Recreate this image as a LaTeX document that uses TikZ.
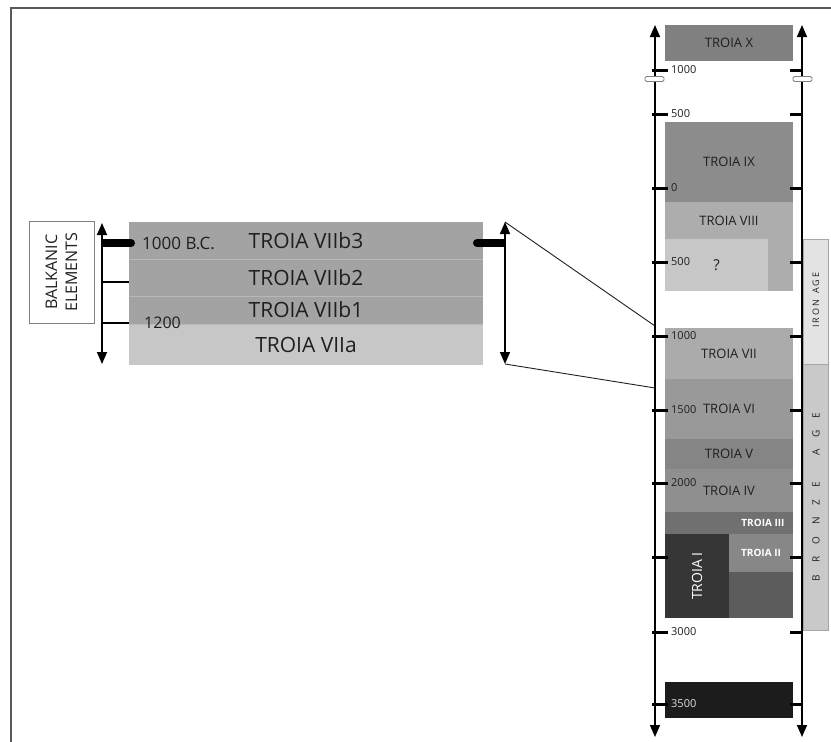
\documentclass[tikz,border=0pt]{standalone}
\usepackage{fontspec}
\setmainfont{Open Sans}
\usetikzlibrary{arrows.meta}
\definecolor{rowmid}{gray}{0.64}
\definecolor{rowlight}{gray}{0.78}
\definecolor{rowsep}{gray}{0.72}
\definecolor{erax}{gray}{0.50}
\definecolor{eraix}{gray}{0.55}
\definecolor{eraviii}{gray}{0.68}
\definecolor{eraq}{gray}{0.78}
\definecolor{eravii}{gray}{0.67}
\definecolor{eravi}{gray}{0.60}
\definecolor{erav}{gray}{0.52}
\definecolor{eraiv}{gray}{0.56}
\definecolor{eraiii}{gray}{0.44}
\definecolor{erai}{gray}{0.21}
\definecolor{eraii}{gray}{0.53}
\definecolor{eralow}{gray}{0.36}
\definecolor{eradeep}{gray}{0.11}
\definecolor{ironband}{gray}{0.89}
\definecolor{bronzeband}{gray}{0.79}
\definecolor{ink}{gray}{0.12}

\begin{document}
\begin{tikzpicture}[x=1pt,y=-1pt,>={Triangle[width=10pt,length=12pt]},
  row/.style={minimum width=354pt,inner sep=0pt,text=ink,font=\fontsize{21}{21}\selectfont},
  era/.style={minimum width=128pt,inner sep=0pt,text=ink,font=\fontsize{13}{13}\selectfont},
  yearlab/.style={anchor=west,inner sep=0pt,text=ink,font=\fontsize{11}{11}\selectfont},
  axis/.style={<->,line width=1.6pt}]
  \useasboundingbox (0,0) rectangle (831,742);
  \draw[gray!70!black,line width=1.2pt] (11,742) -- (11,8) -- (831,8);

  % enlarged part on the left
  \node[draw=gray,fill=white,minimum width=65pt,minimum height=102pt,inner sep=0pt] (balk) at (61.5,272) {};
  \node[rotate=90,align=center,text=ink,font=\fontsize{16}{20}\selectfont] (balktext) at (balk.center) {BALKANIC\\ELEMENTS};

  \node[row,fill=rowmid,minimum height=37pt] (b3) at (306,240.5) {TROIA VIIb3};
  \node[row,fill=rowmid,minimum height=37pt] (b2) at (306,277.5) {TROIA VIIb2};
  \node[row,fill=rowmid,minimum height=28pt] (b1) at (306,310) {TROIA VIIb1};
  \node[row,fill=rowlight,minimum height=41pt] (a) at (306,344.5) {TROIA VIIa};
  \foreach \n in {b3,b2,b1}
    \draw[rowsep,line width=0.8pt] (\n.south west) -- (\n.south east);

  \coordinate (ltop) at (102,223);
  \coordinate (lbot) at (102,364);
  \draw[axis] (ltop) -- (lbot);
  \draw[line width=8pt] (102,243) -- (131,243);
  \fill (131,243) circle (4pt);
  \draw[line width=1.4pt] (102,282) -- (129,282);
  \draw[line width=1.4pt] (102,323) -- (129,323);
  \node[yearlab,font=\fontsize{17}{17}\selectfont] (bc) at (142,243) {1000 B.C.};
  \node[yearlab,font=\fontsize{16}{16}\selectfont] (twelve) at (144,323) {1200};

  \coordinate (rtop) at (505,222);
  \coordinate (rbot) at (505,364);
  \draw[axis] (rtop) -- (rbot);
  \draw[line width=8pt] (505,243) -- (477,243);
  \fill (477,243) circle (4pt);

  % the whole sequence on the right
  \node[era,fill=erax,minimum height=36pt] (x) at (729,43) {TROIA X};
  \node[era,fill=eraix,minimum height=80pt] (ix) at (729,162) {TROIA IX};
  \node[era,fill=eraviii,minimum height=37pt] (viii) at (729,220.5) {TROIA VIII};
  \fill[eraviii] (768,239) rectangle (793,291);
  \node[era,fill=eraq,minimum width=103pt,minimum height=52pt,font=\fontsize{15}{15}\selectfont] (q) at (716.5,265) {?};
  \node[era,fill=eravii,minimum height=51pt] (vii) at (729,353.5) {TROIA VII};
  \node[era,fill=eravi,minimum height=60pt] (vi) at (729,409) {TROIA VI};
  \node[era,fill=erav,minimum height=30pt] (v) at (729,454) {TROIA V};
  \node[era,fill=eraiv,minimum height=43pt] (iv) at (729,490.5) {TROIA IV};
  \node[era,fill=eraiii,minimum height=22pt] (iii) at (729,523) {};
  \node[text=white,font=\fontsize{10}{10}\selectfont\bfseries] (iiitext) at (763,523) {TROIA III};
  \node[era,fill=erai,rotate=90,minimum width=84pt,minimum height=64pt,text=white,font=\fontsize{14}{14}\selectfont] (i) at (697,576) {TROIA I};
  \node[era,fill=eraii,minimum width=64pt,minimum height=38pt,text=white,font=\fontsize{10}{10}\selectfont\bfseries] (ii) at (761,553) {TROIA II};
  \node[era,fill=eralow,minimum width=64pt,minimum height=46pt] (low) at (761,595) {};
  \node[era,fill=eradeep,minimum height=36pt] (deep) at (729,700) {};

  \node[draw=gray!70,fill=ironband,minimum width=25pt,minimum height=125pt,inner sep=0pt] (iron) at (815.5,301.5) {};
  \node[rotate=90,text=ink,font=\fontsize{9}{9}\selectfont] (irontext) at (816,300) {I\hspace{2pt}R\hspace{2pt}O\hspace{2pt}N\hspace{6pt}A\hspace{2pt}G\hspace{2pt}E};
  \node[draw=gray!70,fill=bronzeband,minimum width=25pt,minimum height=266pt,inner sep=0pt] (bronze) at (815.5,497) {};
  \node[rotate=90,text=ink,font=\fontsize{10}{10}\selectfont] (bronzetext) at (816,497) {B\hspace{12pt}R\hspace{12pt}O\hspace{12pt}N\hspace{12pt}Z\hspace{12pt}E\hspace{26pt}A\hspace{12pt}G\hspace{12pt}E};

  \coordinate (atop) at (655,25);
  \coordinate (abot) at (655,737);
  \coordinate (btop) at (802,25);
  \coordinate (bbot) at (802,737);
  \draw[axis] (atop) -- (abot);
  \draw[axis] (btop) -- (bbot);

  \foreach \yy/\lab in {70/1000,114/500,188/0,262/500,336/1000,410/1500,483/2000,557/,632/3000,704/}
  {
    \draw[line width=3pt] (652,\yy) -- (668,\yy);
    \draw[line width=3pt] (790,\yy) -- (803,\yy);
    \node[yearlab] (y\yy) at (671,\yy) {\lab};
  }
  \node[yearlab,text=gray!25] (deeplab) at (671,704) {3500};

  \draw[gray,fill=white,line width=0.8pt,rounded corners=1.5pt] (645,76.5) rectangle (664,81.5);
  \draw[gray,fill=white,line width=0.8pt,rounded corners=1.5pt] (793,76.5) rectangle (812,81.5);

  % zoom lines
  \coordinate (vtop) at (655,326);
  \coordinate (vbot) at (655,388);
  \draw[ink,line width=0.9pt] (rtop) -- (vtop);
  \draw[ink,line width=0.9pt] (rbot) -- (vbot);
\end{tikzpicture}
\end{document}
